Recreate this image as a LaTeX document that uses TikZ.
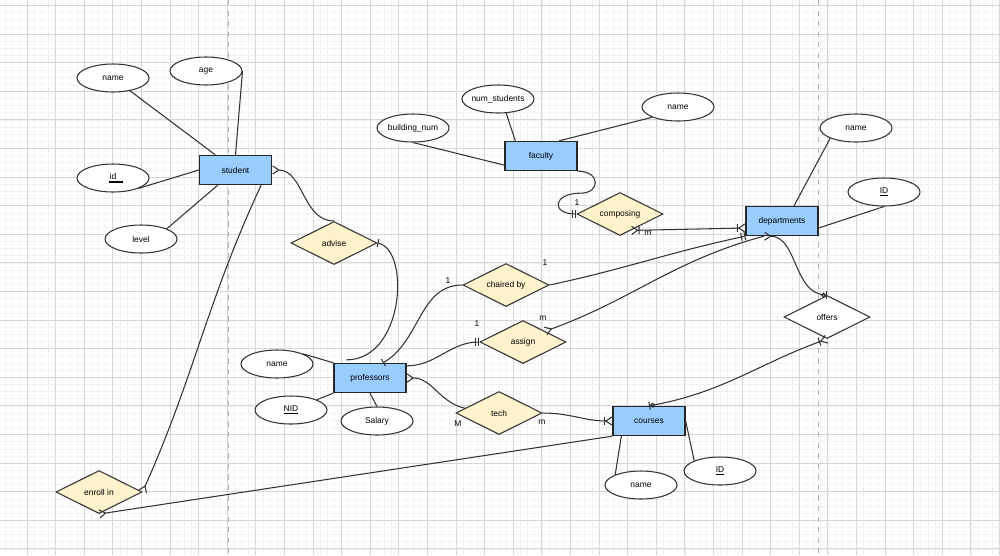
\documentclass[tikz,border=0pt]{standalone}
\usepackage{fontspec}
\setmainfont{Liberation Sans}
\usetikzlibrary{arrows.meta,shapes.geometric}
\definecolor{entityBlue}{HTML}{99CCFF}
\definecolor{relYellow}{HTML}{FFF2CC}
\definecolor{edgeGray}{HTML}{333333}
\definecolor{gridMinor}{HTML}{F2F2F2}
\definecolor{gridMajor}{HTML}{D6D6D6}
\definecolor{pageBreak}{HTML}{B4B4B4}

\begin{document}
\begin{tikzpicture}[x=0.02cm, y=0.02cm,
        font=\fontsize{4.8}{5.8}\selectfont,
        crowTip/.tip={Straight Barb[reversed,length=3.4pt,width=4.6pt]},
        oneTip/.tip={Bar[width=4.6pt]},
        twoTip/.tip={Bar[width=4.6pt,sep=1.4pt]Bar[width=4.6pt]},
        zeroTip/.tip={Circle[open,length=2.8pt,width=2.8pt]},
        entity/.style={draw=black!85, line width=0.75pt, fill=entityBlue, minimum width=1.44cm, minimum height=0.58cm, inner sep=0pt},
        attrib/.style={ellipse, draw=edgeGray, line width=0.6pt, fill=white, minimum width=1.44cm, minimum height=0.56cm, inner xsep=-2pt, inner ysep=0pt},
        relation/.style={diamond, aspect=2, draw=edgeGray, line width=0.6pt, fill=relYellow, minimum width=1.72cm, minimum height=0.86cm, inner sep=0pt},
        attrLine/.style={draw=edgeGray, line width=0.6pt},
        relLine/.style={draw=edgeGray, line width=0.6pt},
        card/.style={inner sep=0pt},
        minorLine/.style={gridMinor, line width=0.35pt},
        majorLine/.style={gridMajor, line width=0.5pt}]
        \def\minorStep{7.15}
        \def\majorStep{28.6}

        % paper with grid
        \fill[white] (0,0) rectangle (1000,-555);
        \useasboundingbox (0,0) rectangle (1000,-555);
        \foreach \k in {1,...,140} \draw[minorLine] ({-1.6+\minorStep*\k},0) -- ++(0,-555);
        \foreach \k in {0,...,76} \draw[minorLine] (0,{-5.5-\minorStep*\k}) -- ++(1000,0);
        \foreach \k in {1,...,35} \draw[majorLine] ({-1.6+\majorStep*\k},0) -- ++(0,-555);
        \foreach \k in {0,...,19} \draw[majorLine] (0,{-5.5-\majorStep*\k}) -- ++(1000,0);
        \draw[pageBreak, dashed, line width=0.5pt] (228,0) -- (228,-555);
        \draw[pageBreak, dashed, line width=0.5pt] (818,0) -- (818,-555);

        % entities
        \node[entity] (student) at (235.5,-170) {student};
        \node[entity] (faculty) at (541,-156) {faculty};
        \node[entity] (departments) at (782,-221) {departments};
        \node[entity] (professors) at (370,-378) {professors};
        \node[entity] (courses) at (649,-421) {courses};

        % attributes
        \node[attrib] (stuName) at (113,-78) {name};
        \node[attrib] (stuAge) at (206,-71) {age};
        \node[attrib] (stuId) at (113,-178) {\rlap{\hspace{-0.5pt}\rule[-2.2pt]{7.9pt}{1pt}}id};
        \node[attrib] (stuLevel) at (141,-239) {level};
        \node[attrib] (facBuilding) at (413,-128) {building\_num};
        \node[attrib] (facStudents) at (498,-99) {num\_students};
        \node[attrib] (facName) at (678,-107) {name};
        \node[attrib] (depName) at (856,-128) {name};
        \node[attrib] (depId) at (884,-192) {\underline{ID}};
        \node[attrib] (profName) at (277,-364) {name};
        \node[attrib] (profNid) at (291,-410) {\underline{NID}};
        \node[attrib] (profSalary) at (377,-421) {Salary};
        \node[attrib] (crsName) at (641,-485) {name};
        \node[attrib] (crsId) at (720,-471) {\underline{ID}};

        % relationships
        \node[relation] (advise) at (334,-243) {advise};
        \node[relation] (composing) at (620,-214) {composing};
        \node[relation] (chairedBy) at (506,-285) {chaired by};
        \node[relation] (assign) at (523,-342) {assign};
        \node[relation] (tech) at (499,-413) {tech};
        \node[relation, fill=white] (offers) at (827,-317) {offers};
        \node[relation] (enrollIn) at (99,-492) {enroll in};

        % attribute links
        \draw[attrLine] (stuName) -- (student);
        \draw[attrLine] (stuAge.east) -- (student.north);
        \draw[attrLine] (stuId.south east) -- (student.west);
        \draw[attrLine] (stuLevel.north east) -- (student);
        \draw[attrLine] (facBuilding.south) -- ([yshift=0.12cm]faculty.south west);
        \draw[attrLine] (facStudents.-60) -- ([xshift=0.22cm]faculty.north west);
        \draw[attrLine] (facName.south west) -- ([xshift=0.36cm]faculty.north);
        \draw[attrLine] (depName.south west) -- ([xshift=0.24cm]departments.north);
        \draw[attrLine] (depId.south) -- ([yshift=-0.14cm]departments.east);
        \draw[attrLine] (profName.north east) -- (professors.north west);
        \draw[attrLine] (profNid.north east) -- (professors.south west);
        \draw[attrLine] (profSalary.north) -- (professors.south);
        \draw[attrLine] (crsName.north west) -- ([xshift=0.18cm]courses.south west);
        \draw[attrLine] (crsId.north west) -- (courses.east);

        % relationship links
        \draw[relLine, {crowTip[]}-] (student.east) to[out=0,in=180] (advise.north);
        \draw[relLine, {oneTip[]}-] (advise.east) .. controls +(33,-7) and +(58,0) .. ([xshift=0.26cm,yshift=0.06cm]professors.north west);
        \draw[relLine, {oneTip[]}-] ([xshift=0.26cm]professors.north) to[out=30,in=180] (chairedBy.west);
        \draw[relLine, -{twoTip[]}] (chairedBy.east) to[out=12,in=192] (departments.south west);
        \draw[relLine, -{twoTip[]}] ([yshift=-0.06cm]professors.north east) to[out=0,in=180] (assign.west);
        \draw[relLine, {crowTip[]}-] (assign.26) to[out=20,in=195] ([xshift=-0.36cm]departments.south);
        \draw[relLine, {crowTip[]}-] (professors.east) to[out=0,in=168] (tech.172);
        \draw[relLine, -{oneTip[]crowTip[]}] (tech.east) to[out=0,in=180] (courses.west);
        \draw[relLine, {oneTip[]zeroTip[]}-{oneTip[]crowTip[]}] (courses.north) to[out=10,in=200] (offers.south);
        \draw[relLine, {crowTip[]}-{zeroTip[]oneTip[]}] ([xshift=-0.36cm]departments.south) to[out=0,in=180] (offers.north);
        \draw[relLine, -{crowTip[]}] ([xshift=-0.22cm]student.south east) to[out=-115,in=66] (enrollIn.east);
        \draw[relLine, {crowTip[]}-] (enrollIn.south) -- (courses.south west);
        \draw[relLine, -{twoTip[]}] (faculty.south east) .. controls +(23,0) and +(20,0) .. ++(3,-22) .. controls +(-28,0) and +(-26,0) .. (composing.west);
        \draw[relLine, {crowTip[]oneTip[]}-{oneTip[]crowTip[]}] (composing.-56) -- ([yshift=-0.14cm]departments.west);

        % cardinalities
        \node[card] (facCard) at (577,-203) {1};
        \node[card] (depCompCard) at (648,-233) {m};
        \node[card] (profChairCard) at (448,-281) {1};
        \node[card] (depChairCard) at (545,-263) {1};
        \node[card] (profAssignCard) at (477,-324) {1};
        \node[card] (depAssignCard) at (543,-318) {m};
        \node[card] (profTechCard) at (458,-424) {M};
        \node[card] (crsTechCard) at (542,-422) {m};
    \end{tikzpicture}
\end{document}
